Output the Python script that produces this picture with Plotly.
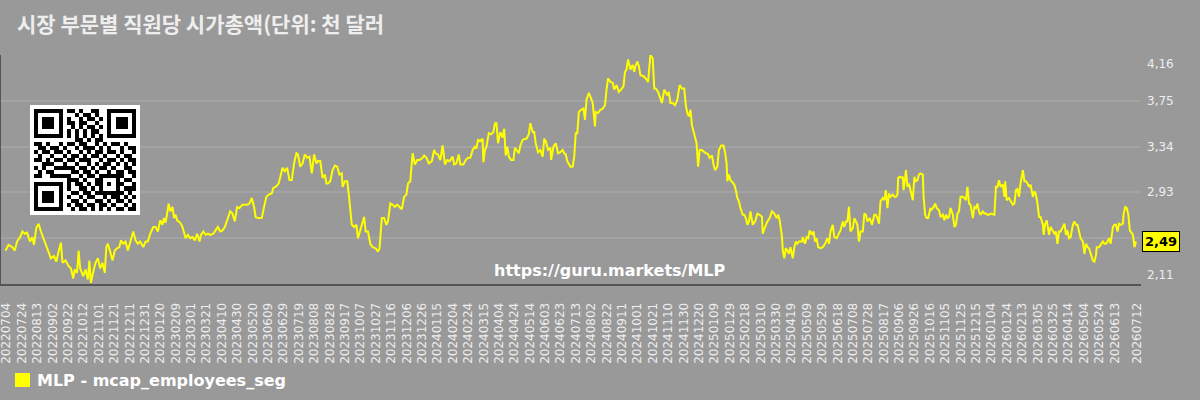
import pandas as pd
import plotly.graph_objects as go

# ---------------- data ----------------
start_date = "2022-07-04"
series_name = "MLP - mcap_employees_seg"
title_text = "시장 부문별 직원당 시가총액(단위: 천 달러"
watermark_text = "https://guru.markets/MLP"

day_offset = [
    0, 4, 9, 12, 15, 19, 22, 25, 28, 32, 35, 37, 40, 43, 46, 50, 53, 56, 59, 63,
    66, 69, 72, 74, 78, 82, 85, 88, 90, 93, 95, 97, 101, 104, 107, 109, 111, 114, 117, 120,
    123, 126, 129, 131, 133, 136, 139, 142, 145, 148, 150, 153, 156, 159, 162, 166, 169, 172, 175, 179,
    182, 185, 188, 192, 195, 198, 201, 204, 206, 208, 210, 212, 214, 217, 219, 221, 223, 227, 230, 232,
    234, 237, 240, 243, 246, 249, 252, 254, 257, 260, 263, 266, 270, 273, 276, 279, 282, 285,
    289, 292, 295, 298, 301, 304, 308, 311, 314, 317, 320, 323, 325, 328, 333, 336, 339, 342, 346, 348,
    351, 355, 357, 360, 363, 366, 369, 372, 375, 378, 380, 383, 386, 389, 392, 395, 398, 401, 404, 406,
    409, 412, 415, 417, 419, 422, 425, 428, 431, 434, 437, 438, 441, 444, 446, 448, 450, 453, 456, 458,
    461, 464, 466, 468, 471, 474, 477, 481, 484, 486, 489, 492, 495, 497, 500, 503, 506, 509, 512, 515,
    518, 521, 523, 526, 529, 532, 535, 538, 542, 544, 547, 550, 554, 557, 559, 562, 565, 568, 571, 574, 577,
    581, 583, 586, 589, 591, 595, 598, 601, 604, 607, 610, 612, 614, 617, 620, 621, 623, 625, 628, 631,
    634, 636, 638, 640, 643, 646, 648, 650, 652, 654, 657, 660, 662, 664, 667, 669, 672, 675, 677, 680,
    682, 685, 687, 689, 692, 695, 698, 700, 702, 705, 708, 709, 712, 715, 718, 721, 724, 726, 728, 730,
    734, 737, 739, 741, 743, 745, 748, 751, 753, 755, 758, 761, 763, 766, 767, 770, 773, 776, 779, 781,
    783, 786, 789, 791, 794, 797, 800, 803, 805, 807, 809, 812, 815, 817, 819, 821, 823, 825, 829, 832,
    835, 838, 841, 843, 845, 848, 851, 853, 856, 858, 860, 862, 864, 867, 870,
    873, 876, 879, 882, 884, 886, 888, 890, 892, 894, 896, 898, 900, 902, 905, 908, 911, 913, 915, 918,
    920, 922, 925, 927, 930, 933, 935, 937, 938, 940, 942, 945, 947, 949, 951, 953, 955, 958, 960, 962,
    964, 966, 968, 971, 974, 977, 980, 983, 984, 987, 990, 993, 996, 999, 1002, 1004, 1006, 1009, 1010, 1012,
    1014, 1016, 1018, 1020, 1023, 1025, 1027, 1029, 1031, 1035, 1036, 1039, 1041, 1043, 1045, 1048, 1050, 1052, 1054, 1056,
    1059, 1062, 1065, 1068, 1070, 1072, 1075, 1077, 1080, 1082, 1085, 1088, 1090, 1092, 1094, 1096, 1098, 1101, 1103, 1105,
    1107, 1109, 1111, 1114, 1116, 1118, 1120, 1123, 1126, 1129, 1131, 1133, 1135, 1137, 1140, 1142, 1144, 1146, 1148, 1150,
    1153, 1155, 1157, 1159, 1160, 1162,
    1164, 1166, 1167, 1169, 1170, 1172, 1174, 1176, 1179, 1181, 1183, 1185, 1187, 1189, 1192, 1193, 1195, 1197, 1199, 1202,
    1203, 1206, 1208, 1210, 1213, 1215, 1218, 1220, 1222, 1224, 1226, 1228, 1231, 1233, 1235, 1237, 1239, 1241, 1244, 1246,
    1248, 1250, 1252, 1254, 1257, 1259, 1261, 1263, 1265, 1267, 1270, 1272, 1274, 1276, 1278, 1280, 1283, 1285, 1287, 1289,
    1291, 1293, 1296, 1298, 1299, 1301, 1304, 1306, 1309, 1311, 1313, 1315, 1317, 1319, 1322, 1324, 1326, 1328, 1330, 1332,
    1335, 1337, 1339, 1341, 1343, 1345, 1348, 1349, 1351, 1353, 1355, 1356, 1358, 1361, 1363, 1365, 1367, 1369, 1371, 1374,
    1376, 1378, 1380, 1382, 1384, 1387, 1389, 1391, 1393, 1395, 1397, 1400, 1402, 1404, 1406, 1408, 1410, 1413, 1415, 1417,
    1418, 1421, 1423, 1426, 1428, 1430, 1432, 1434, 1436, 1439, 1441, 1443, 1445, 1447, 1449, 1452, 1453, 1455, 1457, 1459,
    1461, 1462, 1465, 1467, 1469,
]

mcap_employees_seg = [
    2.41, 2.46, 2.44, 2.41, 2.49, 2.53, 2.58, 2.56, 2.57, 2.49, 2.53, 2.46, 2.61, 2.65, 2.58, 2.50, 2.44, 2.38, 2.34, 2.36,
    2.31, 2.40, 2.48, 2.30, 2.32, 2.27, 2.25, 2.16, 2.24, 2.21, 2.41, 2.25, 2.18, 2.24, 2.15, 2.32, 2.12, 2.22, 2.30, 2.34,
    2.25, 2.30, 2.21, 2.44, 2.47, 2.40, 2.32, 2.41, 2.43, 2.44, 2.50, 2.47, 2.49, 2.41, 2.49, 2.58, 2.50, 2.47, 2.49, 2.44,
    2.49, 2.49, 2.56, 2.62, 2.62, 2.58, 2.68, 2.64, 2.70, 2.66, 2.74, 2.83, 2.76, 2.80, 2.70, 2.73, 2.68, 2.66, 2.62, 2.58,
    2.52, 2.55, 2.52, 2.53, 2.50, 2.56, 2.49, 2.55, 2.58, 2.55, 2.56, 2.55, 2.56, 2.59, 2.62, 2.58, 2.59, 2.62,
    2.70, 2.76, 2.74, 2.67, 2.80, 2.79, 2.82, 2.82, 2.82, 2.83, 2.88, 2.80, 2.71, 2.70, 2.70, 2.80, 2.89, 2.91, 2.92, 2.97,
    2.98, 3.01, 3.06, 3.15, 3.12, 3.15, 3.04, 3.04, 3.19, 3.28, 3.27, 3.16, 3.19, 3.27, 3.24, 3.25, 3.10, 3.27, 3.19, 3.21,
    3.21, 3.06, 3.09, 3.01, 3.01, 3.03, 3.13, 3.17, 3.16, 3.09, 3.10, 2.98, 3.03, 3.03, 2.92, 2.80, 2.64, 2.62, 2.64, 2.52,
    2.59, 2.64, 2.71, 2.58, 2.58, 2.47, 2.44, 2.43, 2.40, 2.43, 2.70, 2.70, 2.64, 2.67, 2.83, 2.82, 2.80, 2.82, 2.80, 2.78,
    2.89, 2.91, 3.01, 3.03, 3.28, 3.18, 3.22, 3.22, 3.24, 3.26, 3.24, 3.19, 3.21, 3.31, 3.28, 3.27, 3.22, 3.35, 3.18, 3.22, 3.21,
    3.25, 3.18, 3.19, 3.27, 3.18, 3.18, 3.22, 3.24, 3.24, 3.31, 3.34, 3.33, 3.40, 3.39, 3.41, 3.20, 3.31, 3.34, 3.46, 3.45,
    3.47, 3.55, 3.55, 3.37, 3.47, 3.42, 3.50, 3.26, 3.34, 3.25, 3.22, 3.22, 3.33, 3.31, 3.28, 3.35, 3.40, 3.41, 3.41, 3.45,
    3.55, 3.47, 3.47, 3.37, 3.29, 3.31, 3.25, 3.41, 3.39, 3.31, 3.33, 3.22, 3.34, 3.37, 3.28, 3.29, 3.31, 3.28, 3.27, 3.21,
    3.16, 3.16, 3.25, 3.46, 3.46, 3.65, 3.67, 3.68, 3.58, 3.76, 3.82, 3.77, 3.73, 3.52, 3.65, 3.64, 3.67, 3.68, 3.71, 3.85,
    3.95, 3.92, 3.91, 3.85, 3.89, 3.83, 3.85, 3.88, 4.01, 4.03, 4.12, 4.03, 4.07, 4.01, 4.07, 4.10, 4.06, 3.98, 3.97, 3.95,
    3.92, 4.16, 4.13, 3.86, 3.86, 3.83, 3.76, 3.73, 3.85, 3.82, 3.80, 3.83, 3.73, 3.73, 3.71,
    3.76, 3.89, 3.86, 3.86, 3.71, 3.64, 3.61, 3.67, 3.53, 3.47, 3.40, 3.37, 3.16, 3.31, 3.31, 3.29, 3.28, 3.27, 3.24, 3.26,
    3.18, 3.13, 3.16, 3.31, 3.35, 3.35, 3.29, 3.19, 3.03, 3.09, 3.04, 3.01, 3.00, 2.95, 2.88, 2.85, 2.79, 2.73, 2.73, 2.70,
    2.64, 2.67, 2.76, 2.64, 2.67, 2.74, 2.73, 2.71, 2.56, 2.62, 2.67, 2.70, 2.76, 2.74, 2.70, 2.73, 2.68, 2.53, 2.41, 2.34,
    2.43, 2.41, 2.38, 2.44, 2.34, 2.44, 2.49, 2.47, 2.49, 2.49, 2.53, 2.47, 2.53, 2.52, 2.59, 2.55, 2.58, 2.49, 2.52, 2.44,
    2.43, 2.44, 2.47, 2.52, 2.47, 2.58, 2.64, 2.53, 2.52, 2.55, 2.59, 2.67, 2.62, 2.67, 2.67, 2.80, 2.58, 2.61, 2.70, 2.67,
    2.64, 2.49, 2.58, 2.58, 2.74, 2.73, 2.67, 2.70, 2.64, 2.73, 2.73, 2.70, 2.65, 2.85, 2.88, 2.86, 2.95, 2.79, 2.92, 2.89,
    2.91, 2.89, 2.89, 2.91, 3.06, 3.07,
    3.06, 3.07, 2.95, 3.06, 3.13, 2.98, 3.01, 2.95, 2.86, 3.07, 3.03, 3.04, 3.09, 3.10, 3.09, 2.89, 2.73, 2.70, 2.70, 2.79,
    2.77, 2.80, 2.83, 2.79, 2.77, 2.71, 2.73, 2.68, 2.73, 2.70, 2.71, 2.79, 2.73, 2.62, 2.64, 2.74, 2.76, 2.89, 2.89, 2.88,
    2.86, 2.98, 2.83, 2.82, 2.70, 2.80, 2.79, 2.83, 2.76, 2.73, 2.76, 2.74, 2.74, 2.73, 2.73, 2.74, 2.73, 2.73, 2.98, 2.98,
    3.04, 2.98, 3.00, 2.89, 3.03, 2.86, 2.88, 2.85, 2.82, 2.83, 2.95, 2.96, 2.89, 3.01, 3.13, 3.03, 3.03, 3.01, 2.98, 3.00,
    2.89, 2.94, 2.91, 2.83, 2.71, 2.71, 2.64, 2.55, 2.65, 2.68, 2.58, 2.55, 2.62, 2.59, 2.56, 2.58, 2.47, 2.58, 2.58, 2.62,
    2.65, 2.55, 2.59, 2.52, 2.53, 2.64, 2.67, 2.64, 2.64, 2.58, 2.52, 2.49, 2.38, 2.47, 2.44, 2.43, 2.38, 2.32, 2.31, 2.37,
    2.44, 2.44, 2.46, 2.49, 2.47, 2.47, 2.49, 2.52, 2.47, 2.62, 2.64, 2.64, 2.58, 2.65, 2.64, 2.65, 2.74, 2.80, 2.79, 2.73,
    2.59, 2.58, 2.55, 2.44, 2.49,
]

y_grid_values = [2.52, 2.93, 3.34, 3.75, 4.16]
y_label_values = [2.11, 2.93, 3.34, 3.75, 4.16]
y_range = [2.11, 4.16]
tick_step_days = 20

qr_rows = [
    "1011001011010011010110010",
    "0110110100101101001011011",
    "1101011010010110110100101",
    "0010100111011001011011010",
    "1100111001010110100110101",
    "0111000110101011010010110",
    "1010101010101010101010101",
    "0101101100110101101001011",
    "1101001011011001010110100",
    "0110110100101110101001011",
    "1011011010010101101101001",
    "0100101101101011010010110",
    "1101010011011100101101011",
    "0011101100100101011010101",
    "1010010111011010110100110",
    "0101101001101101001011011",
    "1100110110010110110101001",
    "0011011001101001011010110",
    "1010100110110101101101001",
    "0101011010011010010110111",
    "1101100101101101101001010",
    "0010111010010110010110101",
    "1101010101101001101011010",
    "0110101010110110110100101",
    "1011010101011010101011011",
]

# ---------------- layout helpers ----------------
W, H = 1200, 400
ML, MR, MT, MB = 1, 59, 55, 116
PW, PH = W - ML - MR, H - MT - MB


def px_x(px):
    return (px - ML) / PW


def px_y(py):
    return (H - MB - py) / PH


BG = "#999999"
GRID = "#a3a3a3"
AXIS = "#555555"
TXT = "#eeeeee"
YELLOW = "#ffff00"
FONT = "DejaVu Sans"

start = pd.Timestamp(start_date)
dates = start + pd.to_timedelta(day_offset, unit="D")
last = dates[-1]

tick_dates = [t for t in pd.date_range(start, last, freq=f"{tick_step_days}D") if (last - t).days > tick_step_days]
tick_dates.append(last)
tick_text = [t.strftime("%Y%m%d") for t in tick_dates]

x_range = [start - pd.Timedelta(hours=5.85 * 24), start + pd.Timedelta(hours=1475.5 * 24)]


def build_qr(rows):
    n = len(rows)
    m = [[int(c) for c in r] for r in rows]

    def finder(r0, c0):
        for i in range(-1, 8):
            for j in range(-1, 8):
                r, c = r0 + i, c0 + j
                if 0 <= r < n and 0 <= c < n:
                    on = False
                    if 0 <= i <= 6 and 0 <= j <= 6:
                        on = i in (0, 6) or j in (0, 6) or (2 <= i <= 4 and 2 <= j <= 4)
                    m[r][c] = 1 if on else 0

    finder(0, 0)
    finder(0, n - 7)
    finder(n - 7, 0)
    for k in range(8, n - 8):
        m[6][k] = 1 if k % 2 == 0 else 0
        m[k][6] = 1 if k % 2 == 0 else 0
    a = n - 7
    for i in range(-2, 3):
        for j in range(-2, 3):
            m[a + i][a + j] = 1 if max(abs(i), abs(j)) in (0, 2) else 0
    m[n - 8][8] = 1
    full = [[0] * (n + 2)]
    for r in m:
        full.append([0] + r + [0])
    full.append([0] * (n + 2))
    return full


qr = build_qr(qr_rows)

fig = go.Figure()
fig.add_trace(go.Scatter(
    x=dates, y=mcap_employees_seg, mode="lines", name=series_name,
    line=dict(color=YELLOW, width=2), showlegend=False, hoverinfo="x+y",
))
fig.add_trace(go.Heatmap(
    z=qr, xaxis="x2", yaxis="y2", colorscale=[[0, "#ffffff"], [1, "#000000"]],
    zmin=0, zmax=1, showscale=False, hoverinfo="skip",
))

annotations = []
for v in y_label_values:
    shift = 0
    if v == y_range[1]:
        shift = -9
    elif v == y_range[0]:
        shift = 9
    annotations.append(dict(
        x=1, xref="paper", xanchor="left", xshift=4,
        y=v, yref="y", yanchor="middle", yshift=shift,
        text=f"{v:.2f}".replace(".", ","), showarrow=False,
        font=dict(family=FONT, size=12, color=TXT),
    ))
last_val = mcap_employees_seg[-1]
annotations.append(dict(
    x=1, xref="paper", xanchor="left", xshift=1,
    y=last_val, yref="y", yanchor="middle",
    text="<b>" + f"{last_val:.2f}".replace(".", ",") + "</b>", showarrow=False,
    bgcolor=YELLOW, bordercolor="#000000", borderwidth=1, borderpad=2,
    font=dict(family=FONT, size=13, color="#000000"),
))
annotations.append(dict(
    x=px_x(610), xref="paper", xanchor="center",
    y=px_y(270), yref="paper", yanchor="middle",
    text="<b>" + watermark_text + "</b>", showarrow=False,
    font=dict(family=FONT, size=16, color="#ffffff"),
))
annotations.append(dict(
    x=px_x(35), xref="paper", xanchor="left",
    y=px_y(380), yref="paper", yanchor="middle",
    text="<b>" + series_name + "</b>", showarrow=False,
    font=dict(family=FONT, size=16, color="#ffffff"),
))

shapes = [dict(
    type="rect", xref="paper", yref="paper",
    x0=px_x(15), x1=px_x(30), y0=px_y(387), y1=px_y(373),
    fillcolor=YELLOW, line=dict(width=0),
)]

fig.update_layout(
    width=W, height=H,
    margin=dict(l=ML, r=MR, t=MT, b=MB, pad=0, autoexpand=False),
    paper_bgcolor=BG, plot_bgcolor=BG,
    title=dict(
        text="<b>" + title_text + "</b>",
        x=17 / W, xref="container", xanchor="left",
        y=1 - 25 / H, yref="container", yanchor="middle",
        font=dict(family="Noto Sans CJK KR", size=21, color=TXT),
    ),
    xaxis=dict(
        type="date", range=x_range, tickvals=tick_dates, ticktext=tick_text,
        tickangle=-90, tickfont=dict(family=FONT, size=12, color=TXT),
        showgrid=False, zeroline=False, showline=True, linecolor=AXIS, linewidth=2,
        ticks="", ticklabelstandoff=12, ticklabelshift=1,
        ticklabeloverflow="allow", automargin=False,
    ),
    yaxis=dict(
        range=y_range, tickvals=y_grid_values, showticklabels=False,
        showgrid=True, gridcolor=GRID, gridwidth=2, zeroline=False,
        showline=True, linecolor=AXIS, linewidth=1.5, ticks="", automargin=False,
    ),
    xaxis2=dict(domain=[px_x(30), px_x(140)], anchor="y2", visible=False,
                range=[-0.5, len(qr) - 0.5], fixedrange=True, automargin=False),
    yaxis2=dict(domain=[px_y(215), px_y(105)], anchor="x2", visible=False,
                range=[len(qr) - 0.5, -0.5], fixedrange=True, automargin=False),
    annotations=annotations,
    shapes=shapes,
    showlegend=False,
    hovermode="closest",
)

fig.write_html("out.html")
